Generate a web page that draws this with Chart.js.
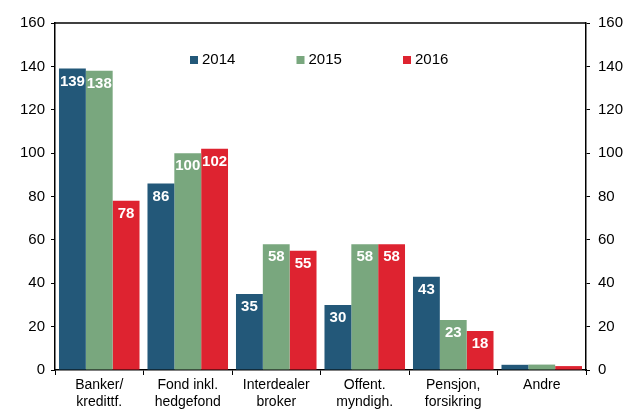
<!DOCTYPE html>
<html>
<head>
<meta charset="utf-8">
<script src="https://cdn.jsdelivr.net/npm/chart.js@4"></script>
<style>
  html, body { margin: 0; padding: 0; background: #fff; }
  #wrap { width: 631px; height: 410px; position: relative; }
</style>
</head>
<body>
<div id="wrap"><canvas id="chart"></canvas></div>
<script>
const categories = [["Banker/", "kredittf."], ["Fond inkl.", "hedgefond"], ["Interdealer", "broker"], ["Offent.", "myndigh."], ["Pensjon,", "forsikring"], "Andre"];
const years = ["2014", "2015", "2016"];
const values2014 = [139, 86, 35, 30, 43, 2.4];
const values2015 = [138, 100, 58, 58, 23, 2.5];
const values2016 = [78, 102, 55, 58, 18, 1.8];
const colors = ["#235879", "#79a77e", "#de2330"];

const FONT = "Arial, 'Liberation Sans', sans-serif";

// white value labels near the top of each bar
const valueLabels = {
    id: "valueLabels",
    afterDatasetsDraw(chart) {
        const ctx = chart.ctx;
        ctx.save();
        ctx.fillStyle = "#fff";
        ctx.font = "bold 15px " + FONT;
        ctx.textAlign = "center";
        ctx.textBaseline = "middle";
        chart.data.datasets.forEach((ds, i) => {
            chart.getDatasetMeta(i).data.forEach((bar, j) => {
                const v = ds.data[j];
                if (v < 5) return;
                ctx.fillText(String(v), bar.x, bar.y + 13);
            });
        });
        ctx.restore();
    }
};

// legend inside the plot + top border line
const insideLegend = {
    id: "insideLegend",
    afterDraw(chart) {
        const ctx = chart.ctx;
        const area = chart.chartArea;
        ctx.save();
        ctx.strokeStyle = "#000";
        ctx.lineWidth = 1.5;
        ctx.beginPath();
        ctx.moveTo(area.left, area.top);
        ctx.lineTo(area.right, area.top);
        ctx.stroke();

        ctx.font = "15px " + FONT;
        ctx.textBaseline = "middle";
        ctx.textAlign = "left";
        let x = 190;
        const y = 60;
        chart.data.datasets.forEach((ds) => {
            ctx.fillStyle = ds.backgroundColor;
            ctx.fillRect(x, y - 4, 8, 8);
            ctx.fillStyle = "#000";
            ctx.fillText(ds.label, x + 12, y);
            x += 106.5;
        });
        ctx.restore();
    }
};

const yTicks = {
    color: "#000",
    font: { family: FONT, size: 15 },
    stepSize: 20,
    padding: 6
};

new Chart(document.getElementById("chart"), {
    type: "bar",
    data: {
        labels: categories,
        datasets: [
            { label: years[0], data: values2014, backgroundColor: colors[0] },
            { label: years[1], data: values2015, backgroundColor: colors[1] },
            { label: years[2], data: values2016, backgroundColor: colors[2] }
        ]
    },
    options: {
        responsive: true,
        maintainAspectRatio: false,
        animation: false,
        layout: { padding: { top: 23, left: 0, right: 0, bottom: 0 } },
        datasets: {
            bar: { categoryPercentage: 0.91, barPercentage: 1.0 }
        },
        plugins: {
            legend: { display: false },
            tooltip: { enabled: false }
        },
        scales: {
            x: {
                grid: {
                    offset: true,
                    drawOnChartArea: false,
                    color: "#000",
                    tickLength: 5
                },
                border: { color: "#000", width: 1.5 },
                ticks: {
                    color: "#000",
                    font: { family: FONT, size: 14 },
                    maxRotation: 0,
                    padding: 2
                },
                afterFit(scale) { scale.height = 40; }
            },
            y: {
                position: "left",
                min: 0,
                max: 160,
                grid: { drawOnChartArea: false, color: "#000", tickLength: 4 },
                border: { color: "#000", width: 1.5 },
                ticks: yTicks,
                afterFit(scale) { scale.width = 55; }
            },
            y2: {
                position: "right",
                min: 0,
                max: 160,
                grid: { drawOnChartArea: false, color: "#000", tickLength: 4 },
                border: { color: "#000", width: 1.5 },
                ticks: Object.assign({}, yTicks, { padding: 8 }),
                afterFit(scale) { scale.width = 45; }
            }
        }
    },
    plugins: [valueLabels, insideLegend]
});
</script>
</body>
</html>
